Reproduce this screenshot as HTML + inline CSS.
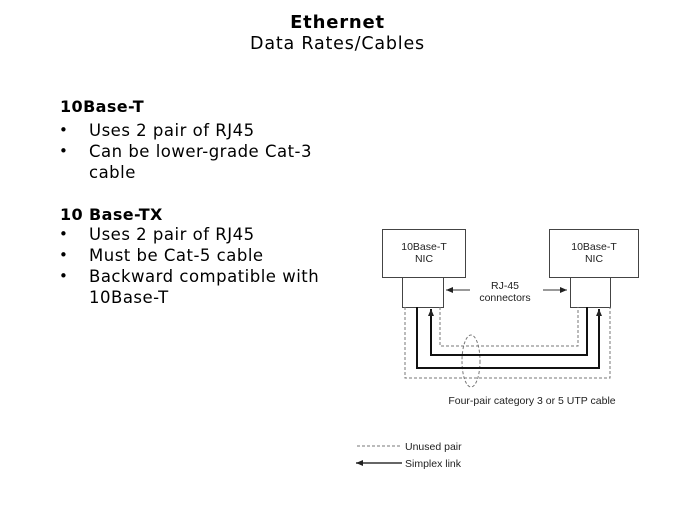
<!DOCTYPE html>
<html><head><meta charset="utf-8"><style>
body{margin:0;width:675px;height:506px;background:#fff;position:relative;overflow:hidden;font-family:"DejaVu Sans","Liberation Sans",sans-serif;color:#000}
.t{position:absolute;white-space:nowrap;font-size:16.5px;line-height:21px;letter-spacing:0.5px}
.b{font-weight:bold}
.d{position:absolute;left:59px;font-size:15px;line-height:21px}
</style></head><body>
<div class="t b" style="left:0;width:675px;text-align:center;top:12px;font-size:18px;letter-spacing:0.8px">Ethernet</div>
<div class="t" style="left:0;width:675px;text-align:center;top:34px;font-size:17.5px;letter-spacing:0.8px">Data Rates/Cables</div>

<div class="t b" style="left:60px;top:96px;font-size:16px;letter-spacing:0.4px">10Base-T</div>
<div class="d" style="top:120px">•</div><div class="t" style="left:89px;top:120px">Uses 2 pair of RJ45</div>
<div class="d" style="top:141px">•</div><div class="t" style="left:89px;top:141px">Can be lower-grade Cat-3</div>
<div class="t" style="left:89px;top:162px">cable</div>

<div class="t b" style="left:60px;top:204px;font-size:16px;letter-spacing:0.4px">10 Base-TX</div>
<div class="d" style="top:224px">•</div><div class="t" style="left:89px;top:224px">Uses 2 pair of RJ45</div>
<div class="d" style="top:245px">•</div><div class="t" style="left:89px;top:245px">Must be Cat-5 cable</div>
<div class="d" style="top:266px">•</div><div class="t" style="left:89px;top:266px">Backward compatible with</div>
<div class="t" style="left:89px;top:287px">10Base-T</div>

<svg style="position:absolute;left:0;top:0" width="675" height="506" font-family="Liberation Sans,sans-serif" font-size="10.5">
<defs><marker id="a" markerWidth="8" markerHeight="8" refX="7" refY="4" orient="auto" markerUnits="userSpaceOnUse"><path d="M0,1 L7,4 L0,7z" fill="#222"/></marker></defs>
<g fill="none" stroke="#444" stroke-width="1">
<rect x="382.5" y="229.5" width="83" height="48"/>
<rect x="402.5" y="277.5" width="41" height="30"/>
<rect x="549.5" y="229.5" width="89" height="48"/>
<rect x="570.5" y="277.5" width="40" height="30"/>
</g>
<g fill="none" stroke="#777" stroke-dasharray="3,2">
<path d="M405 307 V378 H610 V307"/>
<path d="M440 307 V346 H578 V307"/>
<ellipse cx="471" cy="361" rx="9" ry="26"/>
<line x1="357" y1="446" x2="401" y2="446"/>
</g>
<g fill="none" stroke="#111" stroke-width="2">
<path d="M417 307 V368 H599 V309" marker-end="url(#a)"/>
<path d="M587 307 V355 H431 V309" marker-end="url(#a)"/>
</g>
<g stroke="#333" stroke-width="1">
<line x1="470" y1="290" x2="446" y2="290" marker-end="url(#a)"/>
<line x1="543" y1="290" x2="567" y2="290" marker-end="url(#a)"/>
<line x1="402" y1="463" x2="356" y2="463" stroke-width="1.5" marker-end="url(#a)"/>
</g>
<g fill="#222" text-anchor="middle">
<text x="424" y="250">10Base-T</text><text x="424" y="262">NIC</text>
<text x="594" y="250">10Base-T</text><text x="594" y="262">NIC</text>
<text x="505" y="289">RJ-45</text><text x="505" y="301">connectors</text>
<text x="532" y="404">Four-pair category 3 or 5 UTP cable</text>
</g>
<g fill="#222"><text x="405" y="450">Unused pair</text><text x="405" y="467">Simplex link</text></g>
</svg>
</body></html>
